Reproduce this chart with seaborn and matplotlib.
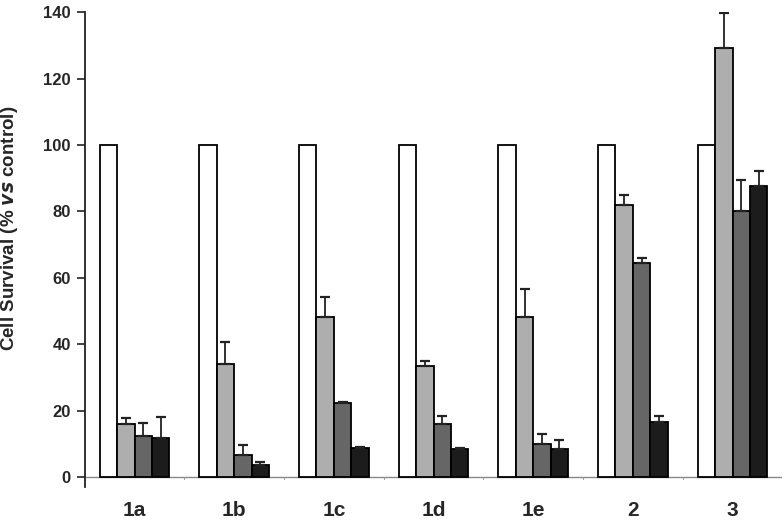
import numpy as np
import pandas as pd
import matplotlib
matplotlib.use("Agg")
import matplotlib.pyplot as plt
import seaborn as sns

compounds = ["1a", "1b", "1c", "1d", "1e", "2", "3"]
treatments = ["control", "dose 1", "dose 2", "dose 3"]

control = [100, 100, 100, 100, 100, 100, 100]
dose1 = [16.1, 34.2, 48.2, 33.4, 48.2, 81.8, 129.3]
dose2 = [12.3, 6.6, 22.4, 15.9, 10.0, 64.4, 80.1]
dose3 = [11.9, 3.6, 8.9, 8.6, 8.5, 16.6, 87.7]

err_control = [0, 0, 0, 0, 0, 0, 0]
err1 = [1.8, 6.6, 6.1, 1.5, 8.5, 3.0, 10.3]
err2 = [3.9, 3.0, 0.3, 2.5, 3.1, 1.5, 9.4]
err3 = [6.3, 1.0, 0.3, 0.3, 2.6, 1.8, 4.5]

bar_colors = ["#ffffff", "#aeaeae", "#666666", "#1c1c1c"]

df = pd.DataFrame({
    "compound": compounds * 4,
    "treatment": np.repeat(treatments, len(compounds)),
    "value": control + dose1 + dose2 + dose3,
})
errs = [err_control, err1, err2, err3]

sns.set_style("white")
plt.rcParams["font.family"] = ["Liberation Sans", "DejaVu Sans"]

fig = plt.figure(figsize=(7.84, 5.25), dpi=100)
ax = fig.add_axes([0.108, 0.072, 0.89, 0.905])

sns.barplot(data=df, x="compound", y="value", hue="treatment",
            order=compounds, hue_order=treatments, palette=bar_colors,
            width=0.7, errorbar=None, edgecolor="black", linewidth=1.3,
            legend=False, ax=ax)

# one-sided (upward) error bars
for cont, err in zip(ax.containers, errs):
    xs = [p.get_x() + p.get_width() / 2 for p in cont.patches]
    ys = [p.get_height() for p in cont.patches]
    if max(err) == 0:
        continue
    ax.errorbar(xs, ys, yerr=[np.zeros(len(err)), err], fmt="none",
                ecolor="#222222", elinewidth=1.3, capsize=3.8, capthick=1.6,
                zorder=1)

ax.set_xlim(-0.5, len(compounds) - 0.5)
ax.set_ylim(-3, 140)
ax.set_yticks(np.arange(0, 141, 20))
ax.axhline(0, color="#888888", linewidth=1.0, zorder=0)

for s in ["top", "right", "bottom"]:
    ax.spines[s].set_visible(False)
ax.spines["left"].set_color("#222222")
ax.spines["left"].set_linewidth(1.3)

ax.tick_params(axis="y", direction="out", length=6, width=1.2, color="#222222",
               left=True, labelsize=12, pad=4)
for lab in ax.get_yticklabels():
    lab.set_fontweight("bold")

ax.tick_params(axis="x", length=0, pad=10)
ax.set_xticks(range(len(compounds)))
ax.set_xticklabels(compounds, fontsize=15, fontweight="black",
                   family=["Liberation Sans Narrow", "Liberation Sans", "DejaVu Sans"])
ax.set_xlabel("")

# small grey marks between groups on the zero line
for b in np.arange(0.5, len(compounds) - 0.5, 1.0):
    ax.plot([b, b], [-0.6, 0.0], color="#999999", linewidth=0.8)

ax.set_ylabel(r"Cell Survival (% $\mathbfit{vs}$ control)", fontsize=13.5,
              fontweight="bold")
ax.yaxis.set_label_coords(-0.092, 0.545)

fig.savefig("out.png", dpi=100)
